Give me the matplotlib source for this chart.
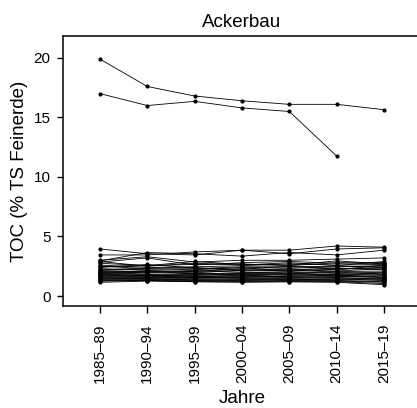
import numpy as np
import matplotlib.pyplot as plt

plt.rcParams.update({
    'font.family': ['Liberation Sans', 'DejaVu Sans'],
    'font.size': 10,
})

perioden = ["1985–89", "1990–94", "1995–99", "2000–04", "2005–09", "2010–14", "2015–19"]

# zwei Standorte mit hohem TOC
hoch_a = [19.9, 17.6, 16.8, 16.4, 16.1, 16.1, 15.65]
hoch_b = [17.0, 16.0, 16.35, 15.8, 15.5, 11.75, np.nan]

# uebrige Standorte
tief = [
    [3.95, 3.55, 3.45, 3.85, 3.55, 3.95, 4.05],
    [3.45, 3.45, 3.70, 3.85, 3.85, 4.20, 4.10],
    [2.95, 3.65, 3.55, 3.35, 3.65, 3.45, 3.85],
    [3.00, 3.30, 2.85, 3.00, 3.00, 3.10, 3.20],
    [2.85, 3.20, 2.60, 2.80, 2.90, 2.75, 2.80],
    [2.75, 2.55, 2.90, 2.65, 2.60, 2.95, 2.70],
    [2.60, 2.40, 2.45, 2.55, 2.70, 2.60, 2.65],
    [2.50, 2.30, 2.20, 2.40, 2.35, 2.45, 2.55],
    [2.40, 2.65, 2.35, 2.25, 2.50, 2.30, 2.40],
    [2.30, 2.15, 2.05, 2.30, 2.20, 2.35, 2.20],
    [2.20, 2.35, 2.40, 2.10, 2.15, 2.20, 2.60],
    [2.10, 2.05, 1.95, 2.15, 2.30, 2.05, 2.10],
    [2.05, 1.95, 2.10, 2.00, 1.95, 2.10, 2.30],
    [2.00, 2.10, 1.85, 1.95, 2.05, 1.90, 2.00],
    [1.95, 1.85, 1.80, 1.90, 1.85, 2.00, 1.85],
    [1.90, 1.80, 1.90, 1.80, 1.90, 1.80, 1.95],
    [1.85, 1.70, 1.75, 1.85, 1.75, 1.85, 1.75],
    [1.80, 1.75, 1.65, 1.70, 1.80, 1.70, 1.80],
    [1.75, 1.65, 1.70, 1.65, 1.65, 1.75, 1.60],
    [1.70, 1.60, 1.60, 1.75, 1.60, 1.60, 1.70],
    [1.65, 1.70, 1.55, 1.55, 1.70, 1.65, 1.55],
    [1.60, 1.55, 1.50, 1.60, 1.55, 1.50, 1.50],
    [1.55, 1.50, 1.60, 1.50, 1.50, 1.55, 1.40],
    [1.50, 1.45, 1.45, 1.45, 1.45, 1.40, 1.45],
    [1.45, 1.40, 1.40, 1.40, 1.35, 1.45, 1.30],
    [1.40, 1.45, 1.35, 1.30, 1.40, 1.35, 1.35],
    [1.35, 1.35, 1.30, 1.35, 1.30, 1.30, 1.20],
    [1.30, 1.30, 1.25, 1.25, 1.25, 1.25, 1.15],
    [1.25, 1.30, 1.20, 1.20, 1.20, 1.20, 1.05],
    [1.15, 1.25, 1.20, 1.15, 1.20, 1.15, 0.95],
    [2.90, 2.50, 2.75, 2.60, 2.80, 2.55, 2.90],
    [2.45, 2.55, 2.65, 2.70, 2.55, 2.80, 2.75],
    [2.15, 2.25, 2.30, 2.45, 2.45, 2.50, 2.45],
    [1.95, 2.00, 2.15, 2.20, 2.10, 2.25, 2.35],
]

x = np.arange(1, len(perioden) + 1)

fig = plt.figure(figsize=(4.17, 4.08), dpi=100)
ax = fig.add_axes([63 / 417, 1 - 306 / 408, 358 / 417, 270 / 408])

for reihe in [hoch_a, hoch_b] + tief:
    ax.plot(x, reihe, color='black', linewidth=0.6, marker='o', markersize=2.0)

ax.set_xlim(0.22, 7.78)
ax.set_ylim(-0.84, 21.84)
ax.set_xticks(x)
ax.set_xticklabels(perioden, rotation=90)
ax.set_yticks([0, 5, 10, 15, 20])

for s in ax.spines.values():
    s.set_linewidth(1.1)
ax.spines['right'].set_visible(False)
ax.tick_params(axis='x', length=5, width=1, pad=7.5, labelsize=11)
ax.tick_params(axis='y', length=4.5, width=1, pad=4.5, labelsize=11)

ax.set_title("Ackerbau", fontsize=13.5, pad=6.5)
ax.set_xlabel("Jahre", fontsize=13.5)
ax.set_ylabel("TOC (% TS Feinerde)", fontsize=13.5)
ax.xaxis.set_label_coords(0.5, -0.312)
ax.yaxis.set_label_coords(-0.098, 0.5)

fig.savefig("out.png", dpi=100)
